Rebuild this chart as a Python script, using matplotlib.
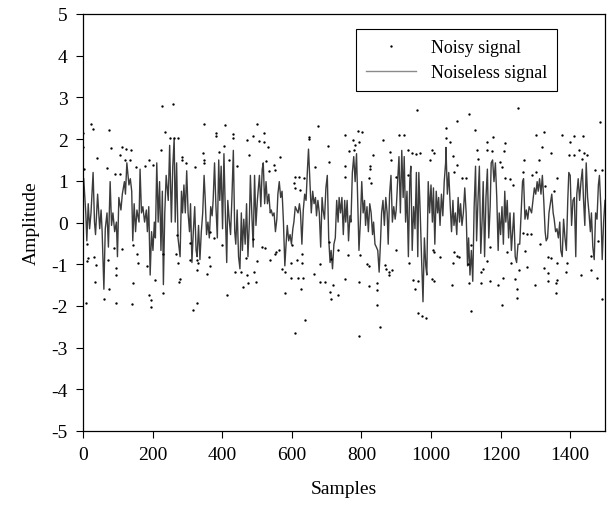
import matplotlib
matplotlib.use("Agg")
import matplotlib.pyplot as plt
from matplotlib.lines import Line2D

# Noiseless signal: (sample, amplitude)
clean_x = [2, 8, 11, 15, 19, 23, 29, 33, 36, 42, 48, 52, 55, 60, 64, 69, 73, 78, 82, 86, 91, 96, 99, 103, 109, 113, 119, 122, 126, 132, 136, 140, 143, 147, 151, 155, 161, 164, 168, 172, 177, 182, 185, 189, 193, 197, 201, 205, 208, 212, 216, 220, 224, 228, 231, 235, 239, 245, 249,
           254, 258, 262, 265, 269, 273, 279, 283, 286, 290, 294, 298, 302, 306, 309, 313, 317, 321, 325, 328, 332, 336, 340, 344, 348, 351, 355, 359, 363, 367, 371, 374, 378, 382, 386, 390, 393, 397, 401, 405, 409, 413, 416, 420, 424, 428, 432, 436, 439, 443, 447, 451, 455, 458, 462, 466, 470, 474, 478, 481, 485, 489, 493, 497, 501,
           507, 511, 515, 518, 522, 526, 530, 534, 538, 541, 545, 549, 553, 557, 560, 564, 568, 572, 576, 580, 583, 587, 591, 595, 599, 603, 606, 610, 614, 618, 622, 625, 629, 633, 637, 641, 645, 648, 652, 656, 660, 664, 668, 671, 675, 679, 683, 687, 690, 694, 698, 702, 706, 710, 713, 717, 721, 725, 729, 733, 736, 740, 744, 748, 752, 755,
           759, 763, 767, 770, 774, 778, 782, 786, 790, 793, 797, 801, 805, 809, 812, 816, 820, 824, 828, 832, 835, 839, 843, 847, 851, 855, 858, 862, 866, 870, 874, 877, 881, 885, 889, 893, 897, 900, 904, 908, 912, 916, 920, 923, 927, 931, 935, 939, 942, 946, 950, 954, 958, 962, 965, 969, 973, 977, 981, 985, 988, 992, 996, 1000, 1004, 1007,
           1011, 1015, 1019, 1022, 1026, 1030, 1034, 1038, 1042, 1043, 1047, 1051, 1055, 1059, 1063, 1066, 1070, 1074, 1078, 1082, 1085, 1089, 1093, 1097, 1101, 1105, 1108, 1112, 1116, 1120, 1124, 1128, 1131, 1135, 1139, 1143, 1147, 1150, 1154, 1158, 1162, 1166, 1170, 1173, 1177, 1181, 1185, 1189, 1193, 1196, 1200, 1204, 1208, 1212, 1215, 1219, 1223, 1227, 1231, 1235, 1238, 1242, 1246, 1250,
           1255, 1259, 1263, 1266, 1270, 1274, 1278, 1282, 1286, 1289, 1293, 1297, 1301, 1305, 1308, 1312, 1316, 1320, 1324, 1328, 1331, 1335, 1339, 1343, 1347, 1351, 1354, 1358, 1362, 1366, 1370, 1373, 1377, 1381, 1385, 1389, 1393, 1396, 1400, 1404, 1408, 1412, 1416, 1419, 1423, 1427, 1431, 1435, 1438, 1442, 1446, 1450, 1454, 1458, 1461, 1465, 1469, 1473, 1477, 1481, 1484, 1488, 1492, 1496, 1500]
clean_y = [1.05, 0.23, -0.44, 0.45, -0.15, 0.23, 1.2, 0.01, -0.29, 0.68, -0.15, 0.30, -0.22, -1.60, -0.15, 0.23, -0.59, 0.98, -0.07, 0.23, -0.22, 0.01, -0.82, 0.60, 0.30, 0.68, 0.98, 0.68, 1.43, 0.90, 1.05, 0.75, -0.44, 0.45, -0.22, 0.30, 0.01, 1.28, 0.23, 0.38, 0.01, 0.30, -0.22, 0.38, -1.26, -0.22, -0.67, 0.01, -0.37, 1.43, 0.01, 0.98, -0.67, 0.75, -1.49, 0.23, 1.13, 0.53, 1.85,
           0.01, 1.35, 2.02, 0.01, 1.43, -0.37, -0.82, 0.75, 0.23, 0.90, 0.23, 1.24, 0.23, -0.22, 0.45, -0.96, -0.22, 0.38, -0.67, -0.82, -0.07, -0.89, -0.22, 0.23, 1.13, 0.60, -0.29, 0.01, -0.37, 0.38, 0.16, 0.53, 1.43, 0.38, -0.37, 1.50, 0.53, 1.35, -0.15, 1.65, 0.23, -0.96, 0.53, 0.08, -0.29, 0.60, 1.73, -0.22, -0.52, 0.30, -0.82, -1.11, 0.23, -0.67, 0.08, -0.52, 0.45, -0.82, 0.01, 1.13, 0.23, -0.59, 1.13, -0.07, 0.53,
           1.13, 0.38, 1.28, 1.43, 0.45, 0.98, 0.45, 0.68, 0.23, 0.30, 0.16, 0.23, -0.22, 0.08, 0.68, 0.98, 0.60, 0.75, 0.01, -1.04, -0.59, -0.07, -0.44, -0.29, -0.52, -0.15, 0.01, 0.38, 0.30, 0.23, 0.45, 0.23, -0.52, 0.30, 0.68, 0.53, 1.28, 1.76, 0.98, 0.23, 0.75, 0.45, 0.60, 0.16, 0.53, 0.23, -0.59, 0.60, 0.30, 0.08, 0.83, 1.13, -0.37, -0.96, -0.67, -1.11, -0.52, -0.37, 0.53, 0.01, 0.60, 0.23, 0.60, -0.29, 0.53, 0.01,
           0.53, -0.44, 0.16, 0.01, 1.20, 1.58, 0.98, 1.65, 0.38, -0.67, 0.01, 0.98, 0.23, 0.53, -0.07, 0.38, -0.22, 0.45, 0.23, -0.29, 0.01, -0.52, -0.59, -0.67, -1.19, -0.44, 0.23, 0.53, -0.07, 0.60, 0.23, -0.52, 0.68, 1.13, 0.01, 0.38, 0.08, 0.30, 0.98, 1.58, 0.23, 1.73, 0.60, 1.58, 0.01, 0.75, -0.82, 0.98, 1.35, -0.67, 0.38, -0.15, 1.20, -0.82, 1.20, 0.23, -0.89, -1.90, -0.37, -1.04, -1.26, 0.98, 0.23, 0.90, 0.01, 0.83,
           -0.52, 0.75, 0.23, 0.60, -0.07, 0.68, 0.16, 0.98, 1.43, 1.80, 0.68, 1.20, 0.45, -0.22, 0.53, -0.07, 0.23, -0.29, 0.60, 0.01, 0.45, -0.07, 0.23, 0.83, 0.23, -1.04, -0.37, -1.26, -0.67, -1.41, 0.38, 1.35, -0.44, 0.53, 1.35, -0.74, 0.08, 0.98, -0.82, 0.60, 1.28, -0.37, 0.38, 1.43, 1.50, 0.98, 1.43, 0.60, -0.67, 0.23, -0.29, 0.38, -0.52, 0.75, 0.01, 0.53, -0.37, 0.23, -0.67, -0.15, 0.23, -0.82, -0.96, -0.52,
           -0.52, 0.23, 0.98, 1.05, 0.08, 0.30, 0.08, 0.38, 0.30, 0.23, 0.53, 0.83, 0.68, 0.98, 0.75, 1.05, 0.68, 1.13, 0.53, -0.22, -0.44, -0.37, 0.23, 0.45, 0.68, 0.23, 0.08, -0.22, -0.15, -0.37, 0.01, -0.67, -0.82, 0.08, -0.37, -0.67, 0.53, 1.20, 1.13, -0.07, 0.53, 0.60, -0.82, 0.68, 1.05, 0.53, 0.98, 1.28, 0.60, -0.07, 1.43, 0.60, 0.23, -0.22, 0.23, -0.59, -0.89, 0.23, 0.08, 0.90, 1.13, 0.38, -0.89, 0.01, 0.53]

# Noisy signal: visible scattered samples
noisy_x = [24, 0, 76, 237, 249, 0, 80, 113, 124, 139, 105, 40, 120, 134, 191, 223, 4, 69, 177, 201, 151, 91, 105, 11, 143, 88, 113, 229, 33, 14, 11, 155, 72, 158, 38, 184, 96, 96, 208, 35, 145, 75, 229, 191, 59, 196, 10, 94, 141, 194,
           348, 407, 381, 383, 432, 430, 470, 489, 499, 262, 273, 405, 391, 346, 285, 285, 348, 419, 478, 321, 295, 348, 443, 269, 365, 307, 376, 399, 489, 266, 362, 328, 307, 467, 273, 330, 501, 365, 438, 453, 491, 470, 327, 357, 279, 276, 496, 474, 460, 413, 327, 317,
           675, 648, 648, 752, 519, 505, 520, 532, 703, 567, 526, 706, 752, 668, 548, 551, 534, 608, 620, 634, 605, 610, 624, 754, 513, 524, 564, 551, 555, 601, 629, 708, 734, 538, 615, 629, 599, 682, 713, 572, 581, 597, 618, 633, 665, 682, 696, 717, 752, 711, 713, 734, 580, 625, 637,
           790, 803, 908, 921, 776, 793, 781, 862, 765, 778, 1004, 934, 946, 967, 956, 832, 883, 996, 826, 826, 934, 822, 829, 886, 900, 762, 795, 900, 1006, 816, 822, 867, 870, 879, 889, 879, 937, 948, 963, 793, 822, 845, 845, 953, 1004, 845, 963, 975, 986, 853, 793,
           1076, 1042, 1127, 1179, 1042, 1055, 1162, 1212, 1131, 1160, 1176, 1210, 1062, 1009, 1135, 1076, 1198, 1205, 1066, 1090, 1100, 1212, 1227, 1237, 1009, 1026, 1066, 1074, 1081, 1116, 1170, 1219, 1231, 1062, 1105, 1160, 1150, 1143, 1009, 1059, 1109, 1145, 1170, 1193, 1208, 1240, 1246, 1248, 1203, 1116,
           1325, 1303, 1377, 1411, 1437, 1398, 1320, 1344, 1396, 1411, 1425, 1439, 1449, 1433, 1267, 1310, 1471, 1490, 1263, 1291, 1301, 1353, 1329, 1363, 1264, 1277, 1286, 1312, 1270, 1337, 1344, 1363, 1392, 1459, 1481, 1325, 1337, 1387, 1430, 1461, 1277, 1478, 1337, 1363, 1360, 1299, 1360, 1253, 1492,
           228, 258, 960, 1110, 1250, 1485, 30, 610]
noisy_y = [2.37, 2.14, 2.22, 2.18, 2.02, 1.81, 1.79, 1.81, 1.77, 1.73, 1.62, 1.54, 1.51, 1.51, 1.51, 1.73, 1.28, 1.30, 1.36, 1.39, 1.32, 1.17, 1.17, -0.52, -0.55, -0.61, -0.63, -0.76, -0.82, -0.85, -0.93, -0.76, -0.89, -0.97, -1.03, -1.04, -1.09, -1.27, -1.38, -1.42, -1.45, -1.60, -1.68, -1.75, -1.83, -1.85, -1.93, -1.94, -1.96, -2.02,
           2.37, 2.35, 2.14, 2.07, 2.12, 2.03, 1.99, 2.07, 2.37, 2.02, 2.02, 1.84, 1.69, 1.66, 1.57, 1.51, 1.51, 1.51, 1.62, 1.32, 1.42, 1.43, 1.36, -0.29, -0.22, -0.48, -0.37, -0.55, -0.40, -0.76, -0.82, -0.89, -0.89, -0.85, -0.98, -0.98, -0.93, -1.04, -1.18, -1.19, -1.19, -1.25, -1.15, -1.23, -1.36, -1.43, -1.42, -1.45, -1.55, -1.75, -1.94, -2.11,
           2.32, 2.05, 2.00, 2.09, 2.14, 1.96, 1.92, 1.82, 1.84, 1.57, 1.47, 1.45, 1.36, 1.32, 1.39, 1.27, 1.24, 1.09, 1.09, 1.07, 0.94, 0.83, 0.77, 1.09, -0.59, -0.61, -0.67, -0.76, -0.70, -0.55, -0.76, -0.46, -0.67, -0.89, -0.91, -0.98, -0.98, -1.00, -0.88, -1.12, -1.19, -1.34, -1.33, -1.34, -1.24, -1.43, -1.43, -1.51, -1.36, -1.66, -1.83, -1.75, -1.68, -1.60, -2.35,
           2.20, 2.17, 2.09, 2.11, 1.97, 1.92, 1.87, 1.97, 1.72, 1.73, 1.75, 1.73, 1.67, 1.66, 1.64, 1.62, 1.69, 1.51, 1.36, 1.28, 1.13, 1.07, 0.94, 1.49, 1.09, -0.78, -0.78, -0.65, -0.67, -1.00, -1.04, -1.03, -1.12, -1.18, -1.13, -1.27, -0.98, -1.38, -1.40, -1.42, -1.53, -1.45, -1.63, -1.60, -1.36, -1.98, -2.17, -2.24, -2.29, -2.50, -2.73,
           2.44, 2.26, 2.22, 2.05, 2.03, 1.94, 1.92, 1.90, 1.73, 1.73, 1.72, 1.71, 1.60, 1.66, 1.52, 1.37, 1.45, 1.32, 1.22, 1.07, 1.06, 1.06, 1.04, 0.91, -0.70, -0.82, -0.70, -0.80, -0.82, -0.55, -0.59, -0.70, -0.97, -0.98, -1.00, -0.93, -1.12, -1.18, -1.40, -1.49, -1.45, -1.45, -1.40, -1.51, -1.33, -1.36, -1.60, -1.81, -1.98, -2.13,
           2.17, 2.11, 2.11, 2.07, 2.07, 1.92, 1.82, 1.67, 1.62, 1.62, 1.73, 1.66, 1.62, 1.52, 1.51, 1.51, 1.27, 1.27, 1.22, 1.13, 1.21, 0.76, 0.87, 1.06, -0.25, -0.28, -0.28, -0.52, -0.68, -0.82, -0.85, -0.97, -0.97, -0.80, -0.44, -1.08, -1.21, -1.19, -1.27, -1.13, -1.06, -1.34, -1.40, -1.38, -1.45, -1.51, -1.68, -1.15, -1.83,
           2.80, 2.85, 2.70, 2.60, 2.75, 2.40, 2.25, -2.65]

x_ticks = [0, 200, 400, 600, 800, 1000, 1200, 1400]
y_ticks = [-5, -4, -3, -2, -1, 0, 1, 2, 3, 4, 5]

plt.rcParams['font.family'] = ['Liberation Serif', 'DejaVu Serif']
plt.rcParams['axes.unicode_minus'] = False

fig = plt.figure(figsize=(6.07, 5.10), dpi=100)
ax = fig.add_axes([83 / 607, 1 - 432 / 510, (605 - 83) / 607, (432 - 15) / 510])

ax.plot(clean_x, clean_y, color='#3c3c3c', lw=1.0, zorder=2)
ax.plot(noisy_x, noisy_y, linestyle='none', marker='o', markersize=1.7,
        color='black', markeredgewidth=0, zorder=3)

ax.set_xlim(0, 1500)
ax.set_ylim(-5, 5)
ax.set_xticks(x_ticks)
ax.set_yticks(y_ticks)
ax.tick_params(direction='out', length=5, width=0.8, labelsize=14, pad=6)
for s in ax.spines.values():
    s.set_linewidth(0.9)

ax.set_xlabel('Samples', fontsize=14, labelpad=12)
ax.set_ylabel('Amplitude', fontsize=14, labelpad=8)

h_noisy = Line2D([], [], linestyle='none', marker='o', markersize=1.7,
                 color='black', markeredgewidth=0)
h_clean = Line2D([], [], color='#8a8a8a', lw=1.0)
leg = ax.legend([h_noisy, h_clean], ['Noisy signal', 'Noiseless signal'],
                loc='upper right', bbox_to_anchor=(0.908, 0.964),
                borderaxespad=0, fontsize=13, frameon=True,
                fancybox=False, edgecolor='black', framealpha=1,
                handlelength=2.8, borderpad=0.55, labelspacing=0.45)
leg.get_frame().set_linewidth(0.8)

fig.savefig('out.png', dpi=100)
